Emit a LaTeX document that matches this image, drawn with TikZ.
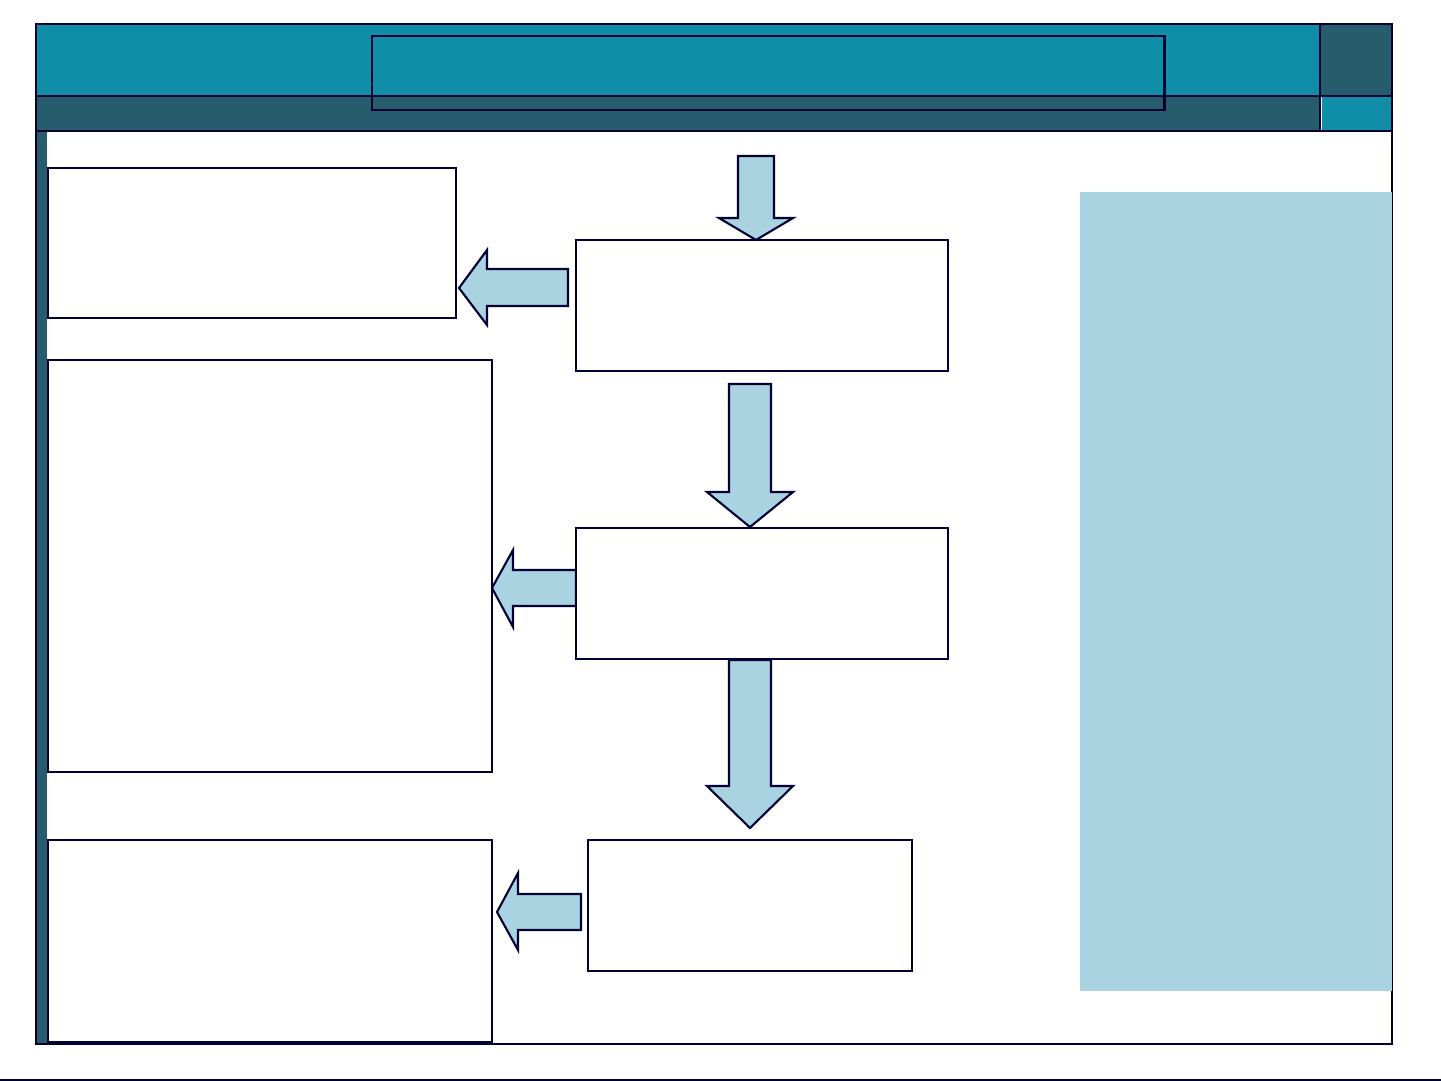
\documentclass[tikz,border=0pt]{standalone}
\usepackage{tikz}
\definecolor{navy}{HTML}{000033}
\definecolor{headteal}{HTML}{108DA7}
\definecolor{darkteal}{HTML}{275C6D}
\definecolor{paleblue}{HTML}{A9D3E1}
\tikzset{>=latex}

\begin{document}
\begin{tikzpicture}[x=0.01cm, y=-0.01cm]
                        % coordinates in pixels, y runs downwards
                        \tikzstyle{box}=[rectangle, draw=navy, fill=white, line width=0.6pt, inner sep=0pt, outer sep=0pt, anchor=north west]
                        \tikzstyle{flow}=[draw=navy, fill=paleblue, line width=0.6pt, line join=miter]
                        \tikzstyle{rule}=[draw=navy, line width=0.6pt]
                        \useasboundingbox (0,0) rectangle (1441,1081);

                        % header bands
                        \fill[headteal] (36,24) rectangle (1320,96);
                        \fill[darkteal] (1320,24) rectangle (1392,96);
                        \fill[darkteal] (36,96) rectangle (1320,131);
                        \fill[headteal] (1322,96) rectangle (1392,131);
                        \fill[darkteal] (36,131) rectangle (47,1044);
                        \draw[rule] (36,96) -- (1392,96);
                        \draw[rule] (36,131) -- (1392,131);
                        \draw[rule] (1320,24) -- (1320,131);
                        \draw[rule] (36,24) rectangle (1392,1044);
                        \node[box, fill=none, minimum width=7.92cm, minimum height=0.74cm] (title) at (372,36) {};

                        % side panel
                        \fill[paleblue] (1080,192) rectangle (1392,991);

                        % arrows
                        \draw[flow] (738,156) -- (774,156) -- (774,218) -- (793,218) -- (756,240)
                                -- (719,218) -- (738,218) -- cycle;
                        \draw[flow] (729,384) -- (771,384) -- (771,492) -- (793,492) -- (750,527)
                                -- (707,492) -- (729,492) -- cycle;
                        \draw[flow] (729,660) -- (771,660) -- (771,786) -- (793,786) -- (750,828)
                                -- (707,786) -- (729,786) -- cycle;
                        \draw[flow] (568,269) -- (568,306) -- (487,306) -- (487,325) -- (459,288)
                                -- (487,250) -- (487,269) -- cycle;
                        \draw[flow] (576,570) -- (576,606) -- (513,606) -- (513,627) -- (492,588)
                                -- (513,550) -- (513,570) -- cycle;
                        \draw[flow] (581,894) -- (581,930) -- (518,930) -- (518,950) -- (497,912)
                                -- (518,873) -- (518,894) -- cycle;

                        % left column
                        \node[box, minimum width=4.08cm, minimum height=1.50cm] (left1) at (48,168) {};
                        \node[box, minimum width=4.44cm, minimum height=4.12cm] (left2) at (48,360) {};
                        \node[box, minimum width=4.44cm, minimum height=2.02cm] (left3) at (48,840) {};

                        % centre column
                        \node[box, minimum width=3.72cm, minimum height=1.31cm] (mid1) at (576,240) {};
                        \node[box, minimum width=3.72cm, minimum height=1.31cm] (mid2) at (576,528) {};
                        \node[box, minimum width=3.24cm, minimum height=1.31cm] (mid3) at (588,840) {};

                        \draw[navy, line width=0.4pt] (0,1080) -- (1441,1080);
\end{tikzpicture}
\end{document}
